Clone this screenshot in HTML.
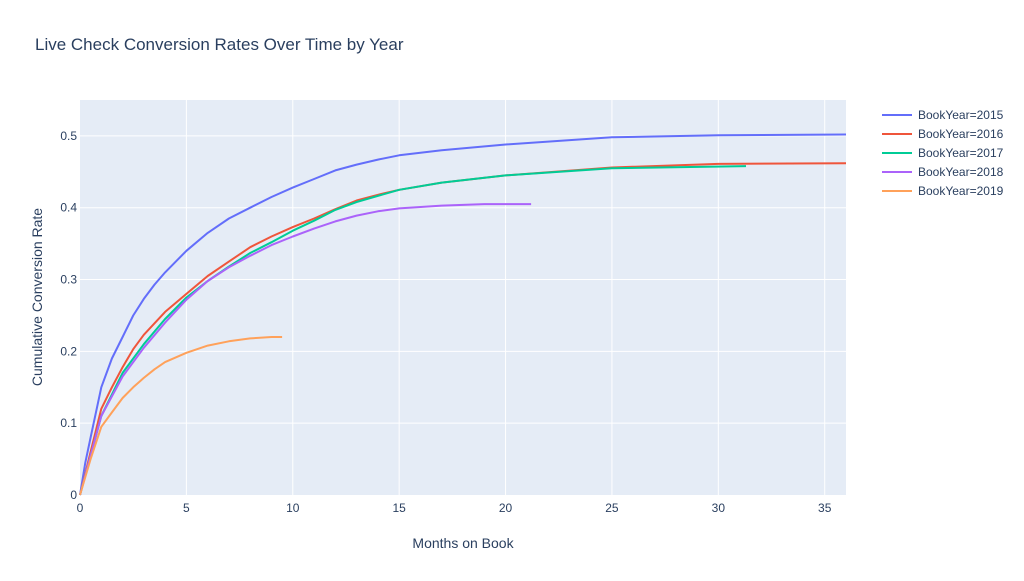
<!DOCTYPE html>
<html><head><meta charset="utf-8"><style>
body{margin:0;background:#fff;font-family:"Liberation Sans",sans-serif;}
svg text{font-family:"Liberation Sans",sans-serif;fill:#2a3f5f;}
</style></head><body>
<svg id="chart" width="1024" height="576">
<rect width="1024" height="576" fill="#fff"/>
<text x="35" y="50" font-size="17">Live Check Conversion Rates Over Time by Year</text>
<rect x="80" y="100" width="766" height="395" fill="#e5ecf6"/>
<g id="grid"></g><g id="series"></g><g id="axes"></g><g id="legend"></g>
<text x="463" y="548" font-size="14" text-anchor="middle">Months on Book</text>
<text transform="translate(42,297) rotate(-90)" font-size="14" text-anchor="middle">Cumulative Conversion Rate</text>
</svg>
<script>
const years=["BookYear=2015","BookYear=2016","BookYear=2017","BookYear=2018","BookYear=2019"];
const colors=["#636efa","#EF553B","#00cc96","#ab63fa","#FFA15A"];
const xTicks=[0,5,10,15,20,25,30,35];
const yTicks=[0,0.1,0.2,0.3,0.4,0.5];
const s2015x=[0,0.25,0.5,1,1.5,2,2.5,3,3.5,4,4.5,5,6,7,8,9,10,11,12,13,14,15,17,20,25,30,36];
const s2015y=[0,0.045,0.08,0.15,0.19,0.22,0.25,0.273,0.293,0.31,0.325,0.34,0.365,0.385,0.40,0.415,0.428,0.44,0.452,0.46,0.467,0.473,0.48,0.488,0.498,0.501,0.502];
const s2016x=[0,0.5,1,1.5,2,2.5,3,4,5,6,7,8,9,10,11,12,13,14,15,17,20,25,30,36];
const s2016y=[0,0.06,0.12,0.15,0.178,0.203,0.223,0.255,0.28,0.305,0.325,0.345,0.36,0.373,0.385,0.398,0.41,0.418,0.425,0.435,0.445,0.456,0.461,0.462];
const s2017x=[0,0.5,1,2,3,4,5,6,7,8,9,10,11,12,13,15,17,20,25,31.3];
const s2017y=[0,0.055,0.11,0.17,0.21,0.245,0.275,0.298,0.318,0.337,0.352,0.368,0.382,0.397,0.408,0.425,0.435,0.445,0.455,0.458];
const s2018x=[0,0.5,1,2,3,4,5,6,7,8,9,10,11,12,13,14,15,17,19,21.2];
const s2018y=[0,0.055,0.11,0.165,0.205,0.24,0.272,0.298,0.317,0.333,0.348,0.36,0.371,0.381,0.389,0.395,0.399,0.403,0.405,0.405];
const s2019x=[0,0.5,1,1.5,2,2.5,3,3.5,4,5,6,7,8,9,9.5];
const s2019y=[0,0.05,0.095,0.115,0.135,0.15,0.163,0.175,0.185,0.198,0.208,0.214,0.218,0.22,0.22];
const allX=[s2015x,s2016x,s2017x,s2018x,s2019x], allY=[s2015y,s2016y,s2017y,s2018y,s2019y];
const X=v=>80+v/36*766, Y=v=>495-v/0.55*395;
const NS="http://www.w3.org/2000/svg";
function mk(t,a,p){const e=document.createElementNS(NS,t);for(const k in a)e.setAttribute(k,a[k]);p.appendChild(e);return e;}
const grid=document.getElementById('grid'),axes=document.getElementById('axes'),ser=document.getElementById('series'),leg=document.getElementById('legend');
xTicks.forEach(t=>{
 if(t>0){const l=mk('line',{x1:X(t),x2:X(t),y1:100,y2:495,stroke:'#fff','stroke-width':1},grid);
 
 }
 const tx=mk('text',{x:X(t),y:512,'font-size':12,'text-anchor':'middle'},axes);tx.textContent=t;
 
 
});
yTicks.forEach(t=>{
 if(t>0){const l=mk('line',{x1:80,x2:846,y1:Y(t),y2:Y(t),stroke:'#fff','stroke-width':1},grid);
 
 }
 const tx=mk('text',{x:77,y:Y(t)+4,'font-size':12,'text-anchor':'end'},axes);tx.textContent=t===0?'0':t.toFixed(1).replace(/^0/,'0');
 
 
});
allX.forEach((xs,i)=>{
 const d=xs.map((x,j)=>(j?'L':'M')+X(x).toFixed(1)+','+Y(allY[i][j]).toFixed(1)).join('');
 const p=mk('path',{d:d,fill:'none',stroke:colors[i],'stroke-width':2,'stroke-linejoin':'round'},ser);
 
 
 const gy=115+i*19;
 const g=mk('g',{},leg);
 
 
 mk('line',{x1:882,x2:912,y1:gy,y2:gy,stroke:colors[i],'stroke-width':2},g);
 const tx=mk('text',{x:918,y:gy+4,'font-size':12},g);tx.textContent=years[i];
});
</script>
</body></html>
